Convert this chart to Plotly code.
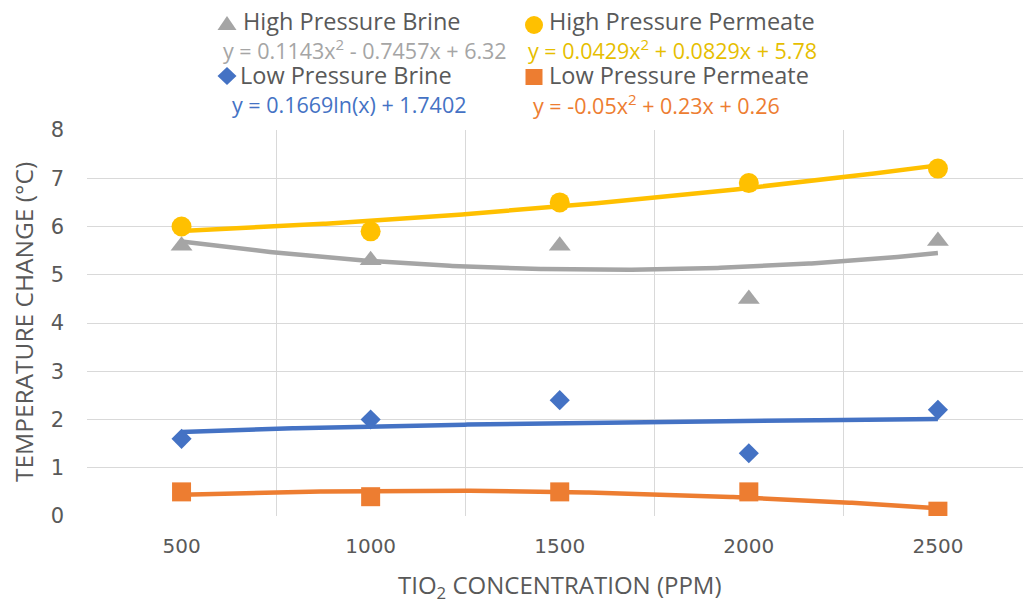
import numpy as np
import plotly.graph_objects as go

# ---- data ----
categories = ["500", "1000", "1500", "2000", "2500"]
hp_brine = [5.6, 5.3, 5.6, 4.5, 5.7]
hp_permeate = [6.0, 5.9, 6.5, 6.9, 7.2]
lp_brine = [1.6, 2.0, 2.4, 1.3, 2.2]
lp_permeate = [0.5, 0.4, 0.5, 0.5, 0.1]

# trendline coefficients (Excel, x = category index 1..5)
hpb_poly = [0.1143, -0.7457, 6.32]
hpp_poly = [0.0429, 0.0829, 5.78]
lpb_log = [0.1669, 1.7402]
lpp_poly = [-0.05, 0.23, 0.26]

series_names = ["High Pressure Brine", "High Pressure Permeate",
                "Low Pressure Brine", "Low Pressure Permeate"]
equations = [
    "y = 0.1143x<sup>2</sup> - 0.7457x + 6.32",
    "y = 0.0429x<sup>2</sup> + 0.0829x + 5.78",
    "y = 0.1669ln(x) + 1.7402",
    "y = -0.05x<sup>2</sup> + 0.23x + 0.26",
]
y_title = "TEMPERATURE CHANGE (°C)"
x_title = "TIO<sub>2</sub> CONCENTRATION (PPM)"

GRAY = "#A5A5A5"
YEL = "#FFC000"
BLUE = "#4472C4"
ORG = "#ED7D31"
TXT = "#595959"
FONT = "Open Sans"

idx = np.arange(1, len(categories) + 1)
xs = np.linspace(1, len(categories), 300)

fig = go.Figure()

trends = [
    (np.polyval(hpb_poly, xs), GRAY),
    (np.polyval(hpp_poly, xs), YEL),
    (lpb_log[0] * np.log(xs) + lpb_log[1], BLUE),
    (np.polyval(lpp_poly, xs), ORG),
]
for ys, c in trends:
    fig.add_trace(go.Scatter(x=xs, y=ys, mode="lines", line=dict(color=c, width=4.5),
                             showlegend=False, hoverinfo="skip"))

pts = [
    (hp_brine, GRAY, "triangle-up", 19),
    (hp_permeate, YEL, "circle", 20),
    (lp_brine, BLUE, "diamond", 15.5),
    (lp_permeate, ORG, "square", 19),
]
for (vals, c, sym, sz), nm in zip(pts, series_names):
    fig.add_trace(go.Scatter(x=idx, y=vals, mode="markers", name=nm,
                             marker=dict(color=c, symbol=sym, size=sz, line=dict(width=0)),
                             showlegend=False))

L, T, B = 87, 130, 84
W, H = 1023, 600
pw = W - L
ph = H - T - B


def px2paper(px, py):
    return (px - L) / pw, (H - B - py) / ph


annos = []
shapes = []


def add_text(px, py, text, color, size, anchor="left", angle=0):
    x, y = px2paper(px, py)
    annos.append(dict(x=x, y=y, xref="paper", yref="paper", text=text, showarrow=False,
                      xanchor=anchor, yanchor="middle", textangle=angle,
                      font=dict(family=FONT, size=size, color=color)))


def add_marker(px, py, kind, color, w, h):
    x, y = px2paper(px, py)
    hw, hh = w / 2, h / 2
    base = dict(xref="paper", yref="paper", xsizemode="pixel", ysizemode="pixel",
                xanchor=x, yanchor=y, fillcolor=color, line=dict(width=0), layer="above")
    if kind == "triangle":
        base.update(type="path", path=f"M {-hw},{-hh} L {hw},{-hh} L 0,{hh} Z")
    elif kind == "diamond":
        base.update(type="path", path=f"M {-hw},0 L 0,{hh} L {hw},0 L 0,{-hh} Z")
    elif kind == "circle":
        base.update(type="circle", x0=-hw, x1=hw, y0=-hh, y1=hh)
    else:
        base.update(type="rect", x0=-hw, x1=hw, y0=-hh, y1=hh)
    shapes.append(base)


# legend entries
add_marker(227, 23, "triangle", GRAY, 19, 14)
add_text(241, 21, series_names[0], TXT, 23.5)
add_marker(534, 25, "circle", YEL, 18, 18)
add_text(547, 21, series_names[1], TXT, 23.5)
add_marker(227, 76, "diamond", BLUE, 19, 18)
add_text(238, 75, series_names[2], TXT, 23.5)
add_marker(534, 77, "square", ORG, 17, 16)
add_text(547, 75, series_names[3], TXT, 23.5)
# equations
add_text(221, 50, equations[0], GRAY, 21.5)
add_text(526, 50, equations[1], "#E6BE00", 21.5)
add_text(230, 104, equations[2], BLUE, 21.5)
add_text(531, 104, equations[3], ORG, 21.5)
# axis titles
add_text(560, 586, x_title, TXT, 24, anchor="center")
add_text(23, 322, y_title, TXT, 24.5, anchor="center", angle=-90)

fig.update_layout(
    width=W, height=H,
    margin=dict(l=L, r=0, t=T, b=B),
    paper_bgcolor="white", plot_bgcolor="white",
    font=dict(family=FONT, color=TXT),
    annotations=annos,
    shapes=shapes,
    xaxis=dict(range=[0.5, 5.45], tickvals=list(idx), ticktext=categories,
               showgrid=False, zeroline=False, showline=False,
               tickfont=dict(family="DejaVu Sans", size=20, color=TXT), ticks="", ticklen=0,
               ticklabelstandoff=16,
               minor=dict(tick0=0.5, dtick=1, showgrid=True, gridcolor="#D9D9D9", gridwidth=1, ticks=""),
               ),
    yaxis=dict(range=[0, 8], dtick=1, showgrid=True, gridcolor="#D9D9D9", gridwidth=1,
               zeroline=False, showline=False, ticks="",
               tickfont=dict(family="DejaVu Sans", size=21, color=TXT),
               ticklabelstandoff=22),
    showlegend=False,
)

fig.write_html("out.html")
